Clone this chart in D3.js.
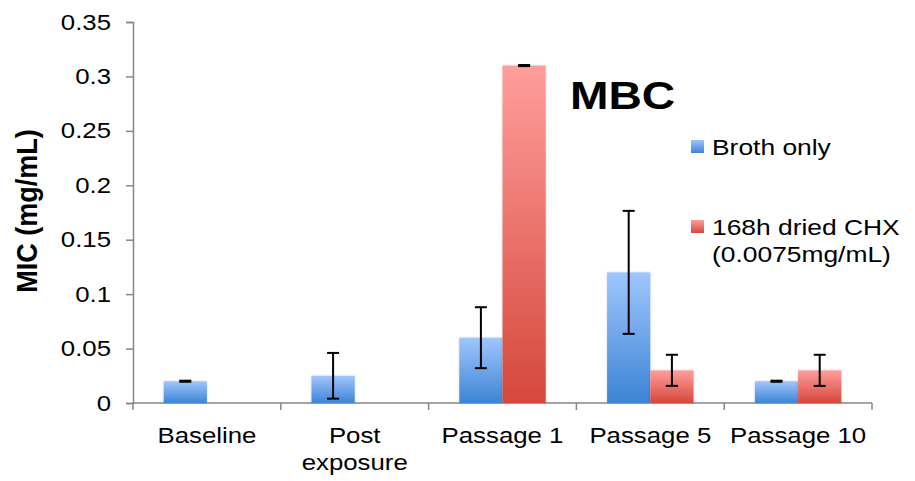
<!DOCTYPE html>
<html>
<head>
<meta charset="utf-8">
<script src="https://cdn.jsdelivr.net/npm/d3@7"></script>
<style>
  html, body { margin: 0; padding: 0; background: #fff; }
  svg { display: block; font-family: "Liberation Sans", Arial, sans-serif; }
</style>
</head>
<body>
<svg id="chart" width="915" height="481"></svg>
<script>
// MBC values per stage, with standard deviation error bars
const categories = ["Baseline", "Post\nexposure", "Passage 1", "Passage 5", "Passage 10"];
const seriesNames = ["Broth only", "168h dried CHX\n(0.0075mg/mL)"];
const brothValues = [0.02, 0.025, 0.06, 0.12, 0.02];
const brothErrors = [0.0005, 0.021, 0.028, 0.0565, 0.0005];
const chxValues = [null, null, 0.31, 0.03, 0.03];
const chxErrors = [null, null, 0.0005, 0.0143, 0.0143];
const yTicks = [0, 0.05, 0.1, 0.15, 0.2, 0.25, 0.3, 0.35];

const svg = d3.select("#chart");
const margin = { left: 133, right: 43, top: 22, bottom: 78 };
const W = 915, H = 481;
const STRETCH = 1.2; // text is drawn horizontally widened

const x = d3.scaleBand().domain(categories).range([margin.left, W - margin.right]).paddingInner(0).paddingOuter(0);
const inner = d3.scaleBand().domain([0, 1]).range([0, x.bandwidth()]).paddingInner(0).paddingOuter(0.71);
const y = d3.scaleLinear().domain([0, 0.35]).range([H - margin.bottom, margin.top]);

// writes a (possibly multi-line) label anchored at (px, py) with horizontal stretch
function label(parent, str, px, py, opts) {
  const t = parent.append("text")
    .attr("transform", `translate(${px},${py}) scale(${opts.sx || STRETCH},1)`)
    .attr("text-anchor", opts.anchor || "start")
    .attr("font-size", opts.size)
    .attr("font-weight", opts.weight || "normal")
    .attr("fill", "#000");
  str.split("\n").forEach((ln, i) => t.append("tspan").attr("x", 0).attr("dy", i === 0 ? 0 : opts.lh || 26).text(ln));
  return t;
}

// gradients
const defs = svg.append("defs");
const grads = [
  { id: "gBlue", top: "#9fc6fd", bottom: "#3d84d5" },
  { id: "gRed", top: "#ff9e9b", bottom: "#d5473c" }
];
grads.forEach(g => {
  const lg = defs.append("linearGradient").attr("id", g.id).attr("x1", 0).attr("y1", 0).attr("x2", 0).attr("y2", 1);
  lg.append("stop").attr("offset", "0%").attr("stop-color", g.top);
  lg.append("stop").attr("offset", "100%").attr("stop-color", g.bottom);
});
const f = defs.append("filter").attr("id", "shadow").attr("x", "-20%").attr("y", "-5%").attr("width", "140%").attr("height", "110%");
f.append("feDropShadow").attr("dx", 0).attr("dy", 0).attr("stdDeviation", 1.2).attr("flood-color", "#000").attr("flood-opacity", 0.18);

// y axis
const yAxis = d3.axisLeft(y).tickValues(yTicks).tickSize(7).tickFormat("");
const gy = svg.append("g").attr("transform", `translate(${margin.left},0)`).call(yAxis);
gy.select(".domain").attr("stroke", "#878787").attr("stroke-width", 1.5);
gy.selectAll(".tick line").attr("stroke", "#878787").attr("stroke-width", 1.5);
const fmt = d => d === 0 ? "0" : String(+d.toFixed(2));
yTicks.forEach(v => label(svg, fmt(v), 111, y(v) + 7.5, { size: 21.5, anchor: "end" }));

// x axis baseline and category separators
const x0 = H - margin.bottom;
const edges = categories.map(c => x(c)).concat([x(categories[categories.length - 1]) + x.bandwidth()]);
svg.append("line").attr("x1", margin.left).attr("x2", W - margin.right).attr("y1", x0).attr("y2", x0)
  .attr("stroke", "#878787").attr("stroke-width", 1.5);
svg.selectAll(".xtick").data(edges).enter().append("line")
  .attr("x1", d => d).attr("x2", d => d).attr("y1", x0).attr("y2", x0 + 7)
  .attr("stroke", "#878787").attr("stroke-width", 1.5);

// category labels
categories.forEach(c => label(svg, c, x(c) + x.bandwidth() / 2, 443, { size: 21.5, anchor: "middle", lh: 27 }));

// bars
const series = [
  { vals: brothValues, errs: brothErrors, fill: "url(#gBlue)" },
  { vals: chxValues, errs: chxErrors, fill: "url(#gRed)" }
];
series.forEach((s, si) => {
  const data = categories.map((c, i) => ({ c, v: s.vals[i], e: s.errs[i] })).filter(d => d.v != null);
  svg.append("g").selectAll("rect").data(data).enter().append("rect")
    .attr("x", d => x(d.c) + inner(si))
    .attr("y", d => y(d.v))
    .attr("width", inner.bandwidth())
    .attr("height", d => y(0) - y(d.v))
    .attr("fill", s.fill)
    .attr("filter", "url(#shadow)");
});

// error bars
series.forEach((s, si) => {
  const data = categories.map((c, i) => ({ c, v: s.vals[i], e: s.errs[i] })).filter(d => d.v != null);
  const g = svg.append("g").attr("stroke", "#000").attr("stroke-width", 2);
  data.forEach(d => {
    const cx = x(d.c) + inner(si) + inner.bandwidth() / 2;
    const hi = y(d.v + d.e), lo = y(d.v - d.e);
    g.append("line").attr("x1", cx).attr("x2", cx).attr("y1", hi).attr("y2", lo);
    g.append("line").attr("x1", cx - 6).attr("x2", cx + 6).attr("y1", hi).attr("y2", hi);
    g.append("line").attr("x1", cx - 6).attr("x2", cx + 6).attr("y1", lo).attr("y2", lo);
  });
});

// title
label(svg, "MBC", 570, 109, { size: 38.5, weight: "bold" });

// legend
const legend = svg.append("g");
const legendY = [140, 220];
seriesNames.forEach((name, i) => {
  legend.append("rect").attr("x", 691).attr("y", legendY[i]).attr("width", 13).attr("height", 13)
    .attr("fill", `url(#${grads[i].id})`);
  label(legend, name, 712, legendY[i] + 14.5, { size: 22, lh: 28 });
});

// y axis title
svg.append("text").attr("transform", "translate(37,211) scale(1.08,1) rotate(-90)").attr("text-anchor", "middle")
  .attr("font-size", 27).attr("font-weight", "bold").attr("fill", "#000").text("MIC (mg/mL)");
</script>
</body>
</html>
